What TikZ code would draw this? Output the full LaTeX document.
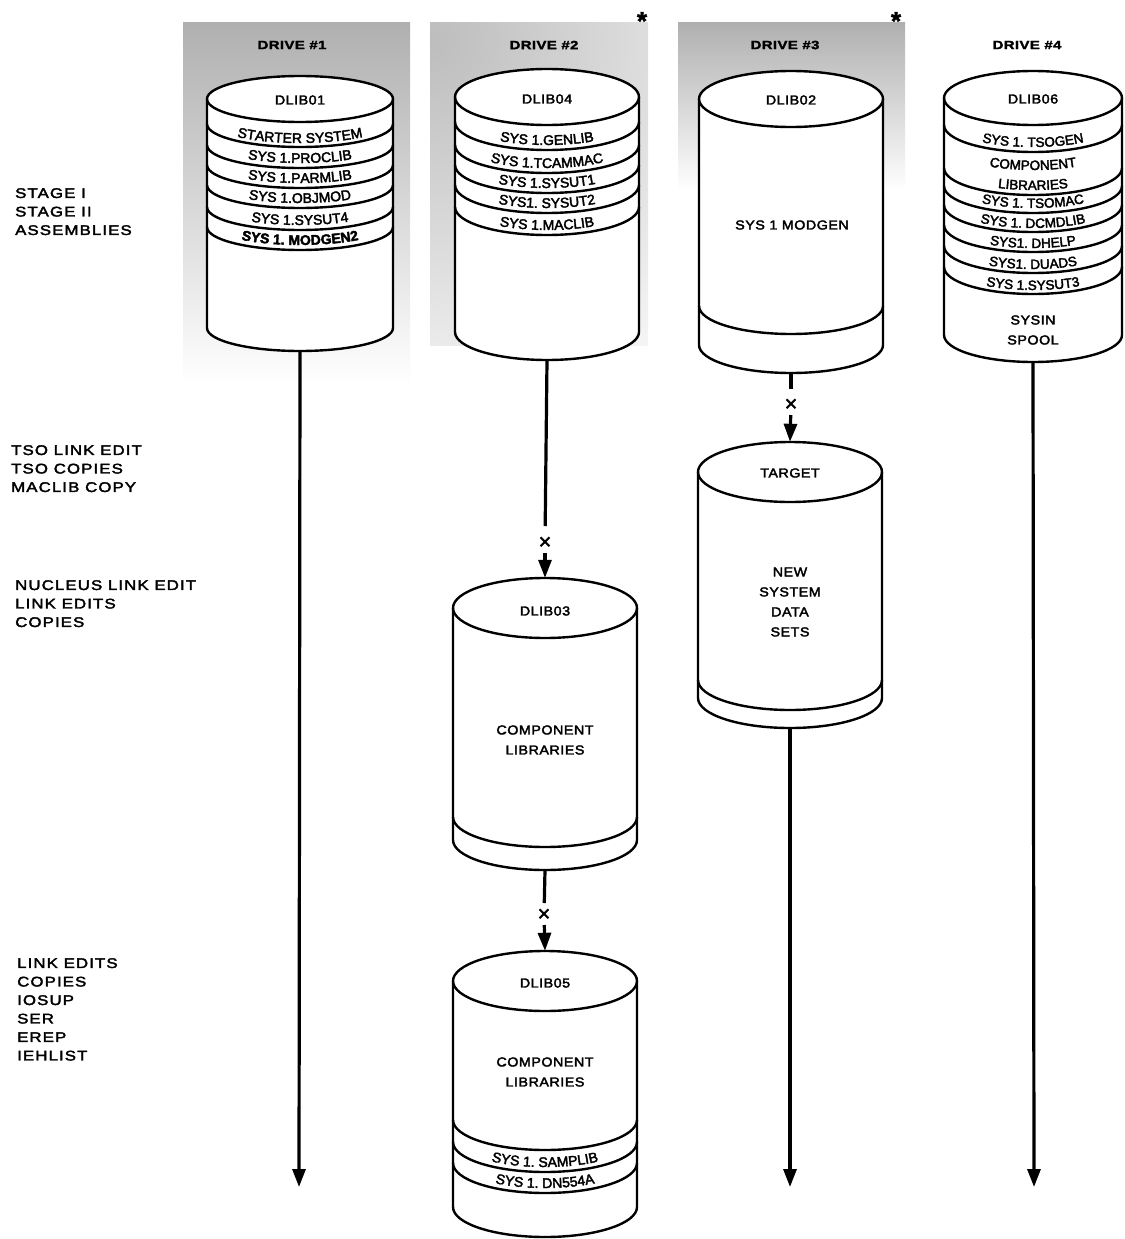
\documentclass[tikz,border=0pt]{standalone}
\usepackage{fontspec}
\setmainfont{Liberation Sans}
\newfontfamily\widefam{Liberation Sans}[FakeStretch=1.2,LetterSpace=8,FakeBold=2.6]
\newfontfamily\midfam{Liberation Sans}[FakeStretch=1.1,LetterSpace=4,FakeBold=2.6]
\newfontfamily\drivefam{Liberation Sans}[FakeStretch=1.25,LetterSpace=3,FakeBold=2]
\newfontfamily\bandfam{Liberation Sans}[FakeBold=2.6]
\newfontfamily\markfam{Liberation Sans}[FakeBold=1.5]
\usetikzlibrary{arrows.meta,decorations.text}
\newcommand\bandstyle{\bandfam\fontsize{14}{16}\selectfont}
\newcommand\bandsmall{\bandfam\fontsize{13.5}{15}\selectfont}
\newcommand\bandboldstyle{\bandfam\bfseries\fontsize{14}{16}\selectfont}
\newcommand\cylbody[6]{%
  \fill[white] ({#2-#5},#3) -- ({#2-#5},#4) arc[start angle=180,end angle=0,x radius=#5,y radius=#6] -- ({#2+#5},#3) arc[start angle=0,end angle=-180,x radius=#5,y radius=#6] -- cycle;
  \draw[cyl] ({#2-#5},#3) -- ({#2-#5},#4) arc[start angle=180,end angle=0,x radius=#5,y radius=#6] -- ({#2+#5},#3);
  \draw[cyl] (#2,#3) ellipse[x radius=#5,y radius=#6];
  \node[cylnode,minimum width={2*#5},minimum height={#4-#3+2*#6}] (#1) at (#2,{(#3+#4)/2}) {};
}
\newcommand\bandline[4]{\draw[cyl] ({#1-#3},#2) arc[start angle=180,end angle=0,x radius=#3,y radius=#4];}
\newcommand\bandtext[5]{\path[decorate,decoration={text along path,text align=center,text={#5}}] ({#1-#3},#2) arc[start angle=180,end angle=0,x radius=#3,y radius=#4];}
\begin{document}
\begin{tikzpicture}[x=1pt,y=-1pt,
  cyl/.style={line width=2.4pt,line join=round},
  cylnode/.style={inner sep=0pt,draw=none,rectangle},
  flow/.style={line width=3.2pt},
  flowarrow/.style={line width=3.2pt,-{Triangle[length=18pt,width=13pt]}},
  lbl/.style={font=\widefam\fontsize{14}{18.5}\selectfont,anchor=north west,align=left,inner sep=0pt},
  ctext/.style={font=\midfam\fontsize{13}{20}\selectfont,align=center,inner sep=0pt},
  drive/.style={font=\drivefam\bfseries\fontsize{12}{14}\selectfont,inner sep=0pt},
  starmark/.style={font=\markfam\bfseries\fontsize{26}{26}\selectfont,inner sep=0pt},
  xmark/.style={font=\markfam\fontsize{22}{22}\selectfont,inner sep=0pt}]
\useasboundingbox (0,0) rectangle (1124,1239);
% shaded drive areas
\shade[top color=gray!62,middle color=gray!45,bottom color=white] (183,23) rectangle (410,385);
\begin{scope}
  \clip (430,23) rectangle (648,345);
  \shade[inner color=gray!52,outer color=white] (430,40) circle[radius=440];
\end{scope}
\shade[top color=gray!62,bottom color=white] (678,23) rectangle (905,190);
% drive labels
\node[drive] (dr1) at (292,45) {DRIVE \#1};
\node[drive] (dr2) at (544,45) {DRIVE \#2};
\node[drive] (dr3) at (785,45) {DRIVE \#3};
\node[drive] (dr4) at (1027,45) {DRIVE \#4};
\node[starmark] (st2) at (642,21) {*};
\node[starmark] (st3) at (896,21) {*};
% left labels
\node[lbl] (g1) at (15,188) {STAGE I\\STAGE II\\ASSEMBLIES};
\node[lbl] (g2) at (11,445) {TSO LINK EDIT\\TSO COPIES\\MACLIB COPY};
\node[lbl] (g3) at (15,580) {NUCLEUS LINK EDIT\\LINK EDITS\\COPIES};
\node[lbl] (g4) at (17,958) {LINK EDITS\\COPIES\\IOSUP\\SER\\EREP\\IEHLIST};
% Drive 1 : DLIB01
\cylbody{dlib01}{300}{99}{328}{93}{23}
\foreach \yy in {124,145,165,185,207,227} {\bandline{300}{\yy}{93}{23}}
\node[ctext] (t01) at (300,100) {DLIB01};
\bandtext{300}{120}{93}{23}{|\bandstyle|STARTER SYSTEM}
\bandtext{300}{140}{93}{23}{|\bandstyle|SYS 1.PROCLIB}
\bandtext{300}{160}{93}{23}{|\bandstyle|SYS 1.PARMLIB}
\bandtext{300}{180}{93}{23}{|\bandstyle|SYS 1.OBJMOD}
\bandtext{300}{202}{93}{23}{|\bandstyle|SYS 1.SYSUT4}
\bandtext{300}{222}{93}{23}{|\bandboldstyle|SYS 1. MODGEN2}
% Drive 2 : DLIB04
\cylbody{dlib04}{547}{97}{332}{92}{28}
\foreach \yy in {122,145,165,185,207} {\bandline{547}{\yy}{92}{28}}
\node[ctext] (t04) at (547,99) {DLIB04};
\bandtext{547}{117}{92}{28}{|\bandstyle|SYS 1.GENLIB}
\bandtext{547}{140}{92}{28}{|\bandstyle|SYS 1.TCAMMAC}
\bandtext{547}{160}{92}{28}{|\bandstyle|SYS 1.SYSUT1}
\bandtext{547}{180}{92}{28}{|\bandstyle|SYS1. SYSUT2}
\bandtext{547}{202}{92}{28}{|\bandstyle|SYS 1.MACLIB}
% Drive 3 : DLIB02
\cylbody{dlib02}{791}{99}{345}{92}{28}
\bandline{791}{306}{92}{28}
\node[ctext] (t02) at (791,100) {DLIB02};
\node[ctext] (t02b) at (792,225) {SYS 1 MODGEN};
% Drive 4 : DLIB06
\cylbody{dlib06}{1033}{98}{335}{89}{27}
\foreach \yy in {125,168,186,205,225,246,267} {\bandline{1033}{\yy}{89}{27}}
\node[ctext] (t06) at (1033,99) {DLIB06};
\bandtext{1033}{120}{89}{27}{|\bandsmall|SYS 1. TSOGEN}
\bandtext{1033}{143}{89}{27}{|\bandsmall|COMPONENT}
\bandtext{1033}{163}{89}{27}{|\bandsmall|LIBRARIES}
\bandtext{1033}{181}{89}{27}{|\bandsmall|SYS 1. TSOMAC}
\bandtext{1033}{201}{89}{27}{|\bandsmall|SYS 1. DCMDLIB}
\bandtext{1033}{221}{89}{27}{|\bandsmall|SYS1. DHELP}
\bandtext{1033}{242}{89}{27}{|\bandsmall|SYS1. DUADS}
\bandtext{1033}{263}{89}{27}{|\bandsmall|SYS 1.SYSUT3}
\node[ctext] (t06b) at (1033,330) {SYSIN\\SPOOL};
% TARGET
\cylbody{target}{790}{472}{698}{92}{30}
\bandline{790}{680}{92}{30}
\node[ctext] (tt) at (790,473) {TARGET};
\node[ctext] (ttb) at (790,602) {NEW\\SYSTEM\\DATA\\SETS};
% DLIB03
\cylbody{dlib03}{545}{608}{840}{92}{30}
\bandline{545}{817}{92}{30}
\node[ctext] (t03) at (545,611) {DLIB03};
\node[ctext] (t03b) at (545,740) {COMPONENT\\LIBRARIES};
% DLIB05
\cylbody{dlib05}{545}{981}{1207}{92}{30}
\foreach \yy in {1120,1142,1163} {\bandline{545}{\yy}{92}{30}}
\node[ctext] (t05) at (545,983) {DLIB05};
\node[ctext] (t05b) at (545,1072) {COMPONENT\\LIBRARIES};
\bandtext{545}{1137}{92}{30}{|\bandstyle|SYS 1.  SAMPLIB}
\bandtext{545}{1158}{92}{30}{|\bandstyle|SYS 1.  DN554A}
% end points
\coordinate (e1) at (299,1187);
\coordinate (e3) at (790,1187);
\coordinate (e4) at (1034,1187);
% x marks
\node[xmark] (x1) at (545,543) {×};
\node[xmark] (x2) at (791,405) {×};
\node[xmark] (x3) at (544,915) {×};
% connectors
\draw[flowarrow] (dlib01.south) -- (e1);
\draw[flowarrow] (dlib06.south) -- (e4);
\draw[flowarrow] (target.south) -- (e3);
\draw[flow,shorten >=17pt] (dlib04.south) -- (x1.center);
\draw[flowarrow,shorten <=10pt] (x1.center) -- (dlib03.north);
\draw[flow,shorten >=16pt] (dlib02.south) -- (x2.center);
\draw[flowarrow,shorten <=10pt] (x2.center) -- (target.north);
\draw[flow,shorten >=12pt] (dlib03.south) -- (x3.center);
\draw[flowarrow,shorten <=10pt] (x3.center) -- (dlib05.north);
\end{tikzpicture}
\end{document}
